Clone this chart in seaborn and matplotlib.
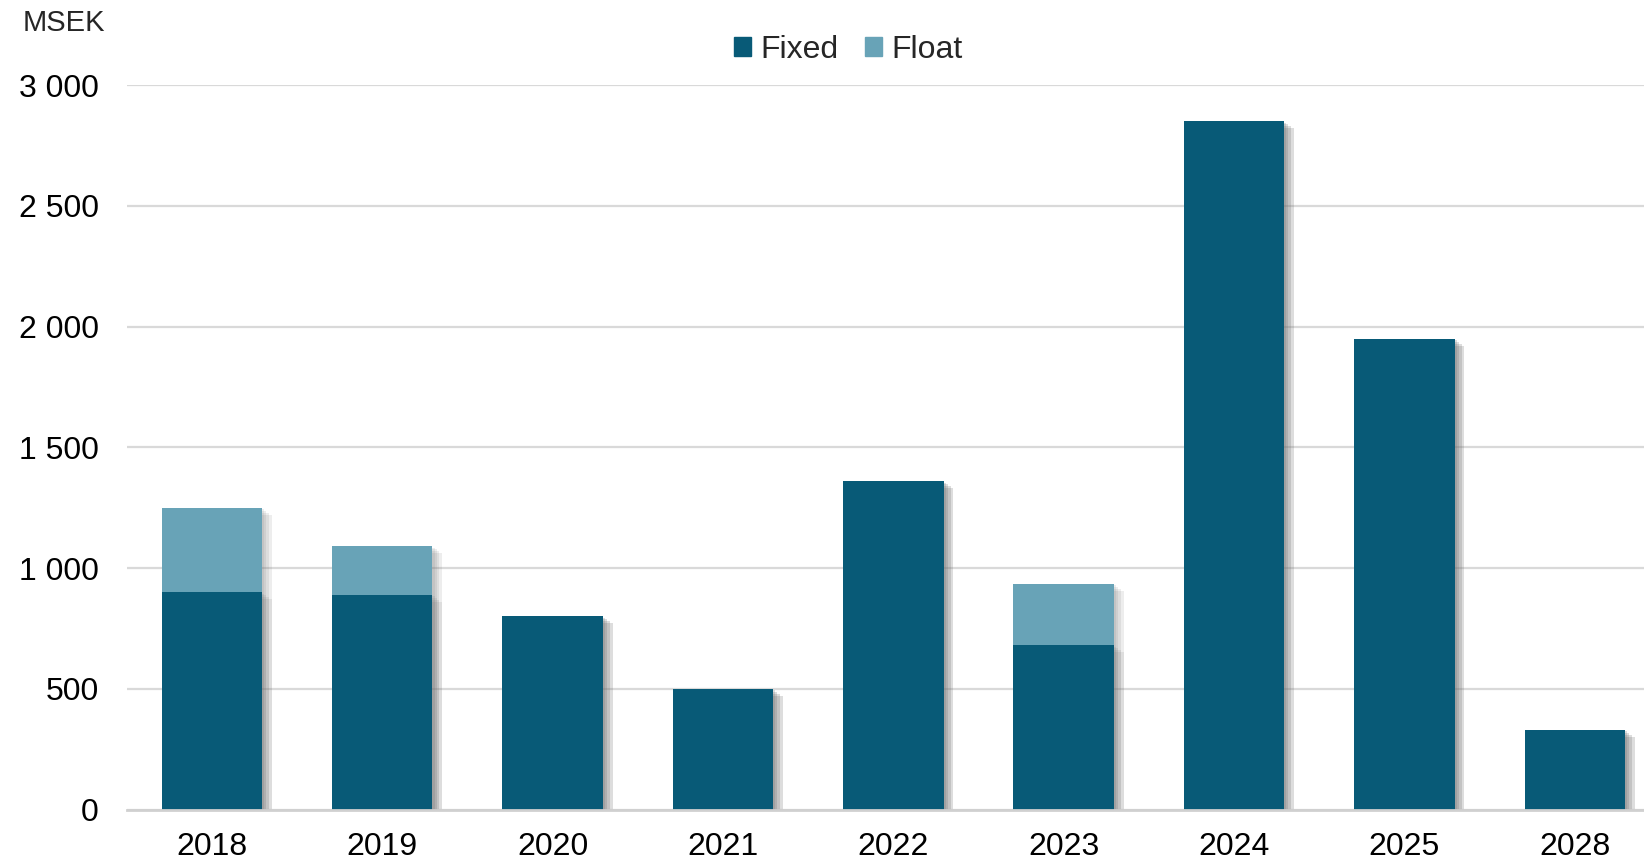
import matplotlib
matplotlib.use("Agg")
import matplotlib.pyplot as plt
import matplotlib.patheffects as pe
from matplotlib.patches import Patch
from matplotlib.ticker import FuncFormatter
import seaborn as sns

# Maturity profile, MSEK
years = ["2018", "2019", "2020", "2021", "2022", "2023", "2024", "2025", "2028"]
fixed = [900, 890, 800, 500, 1360, 680, 2850, 1950, 330]
float_ = [350, 200, 0, 0, 0, 255, 0, 0, 0]
totals = [a + b for a, b in zip(fixed, float_)]

fixed_color = "#085a77"
float_color = "#68a3b7"

sns.set_style("white")
plt.rcParams["font.family"] = ["Liberation Sans", "DejaVu Sans"]

fig = plt.figure(figsize=(16.44, 8.6), dpi=100)
ax = fig.add_axes([0.077, 0.0585, 0.923, 0.8425])

# soft drop shadow, built from a few faint offset copies
shadow = [pe.SimplePatchShadow(offset=(o, -o * 0.7), shadow_rgbFace="#707070", alpha=0.12)
          for o in (7, 5, 3, 1.5)] + [pe.Normal()]

sns.barplot(x=years, y=totals, color=float_color, width=0.59, saturation=1, ax=ax)
sns.barplot(x=years, y=fixed, color=fixed_color, width=0.59, saturation=1, ax=ax)
for p in ax.patches:
    p.set_path_effects(shadow)
    p.set_edgecolor("none")

ax.set_ylim(0, 3000)
ax.set_xlim(-0.5, 8.406)
ax.set_yticks(range(0, 3001, 500))
ax.yaxis.set_major_formatter(FuncFormatter(lambda v, _: f"{int(v):,}".replace(",", " ")))
ax.grid(axis="y", color="#d9d9d9", linewidth=1.6)
ax.set_axisbelow(True)
for s in ["top", "right", "left"]:
    ax.spines[s].set_visible(False)
ax.spines["bottom"].set_color("#d0d0d0")
ax.spines["bottom"].set_linewidth(2)
ax.tick_params(axis="both", length=0, labelsize=23, colors="black")
ax.tick_params(axis="y", pad=20)
ax.tick_params(axis="x", pad=16)
ax.set_xlabel("")
ax.set_ylabel("")

fig.text(0.014, 0.973, "MSEK", fontsize=21, ha="left", va="center")

handles = [Patch(color=fixed_color, label="Fixed"), Patch(color=float_color, label="Float")]
fig.legend(handles=handles, loc="center", bbox_to_anchor=(0.516, 0.942), ncol=2, frameon=False,
           fontsize=23, handlelength=0.55, handleheight=0.55, handletextpad=0.3, columnspacing=0.8)

fig.savefig("out.png", dpi=100)
